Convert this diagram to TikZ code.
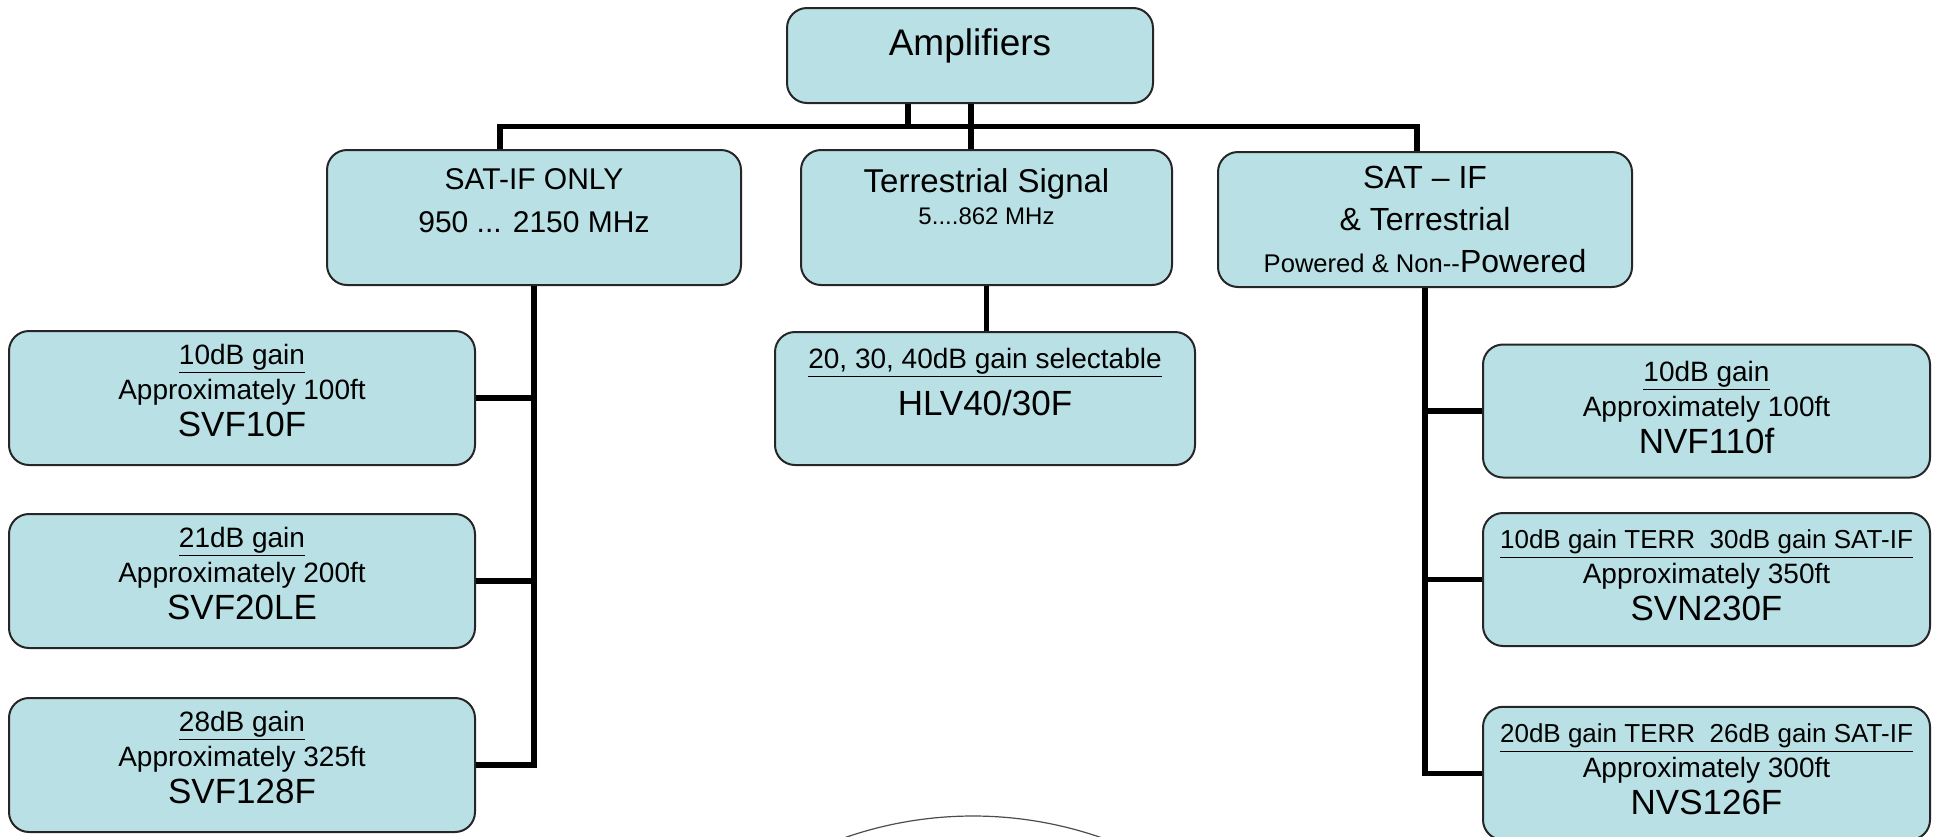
\documentclass[tikz,border=0pt]{standalone}
\usepackage{fontspec}
\setmainfont{Liberation Sans}
\usetikzlibrary{positioning}
\definecolor{boxfill}{RGB}{185,224,228}
\newcommand{\gainline}[1]{\underline{#1}}
\newcommand{\model}[1]{{\fontsize{17.5}{21}\selectfont #1}}
\newcommand{\terrsat}[1]{{\fontsize{13}{17.5}\selectfont\gainline{#1}}}
\tikzstyle{box} = [rectangle, draw=black!85, line width=1pt, fill=boxfill, rounded corners=10pt, align=center, inner sep=2pt, font=\fontsize{14}{17.5}\selectfont]
\tikzstyle{head} = [box, minimum width=207pt, minimum height=67.5pt, font=\fontsize{15}{21.5}\selectfont]
\tikzstyle{leaf} = [box, minimum width=233pt, minimum height=67pt]
\tikzstyle{rleaf} = [leaf, minimum width=223.5pt, minimum height=66.5pt]
\tikzstyle{link} = [line width=2.75pt, black]

\begin{document}
\begin{tikzpicture}[x=0.5pt, y=-0.5pt]
\useasboundingbox (0,0) rectangle (1958,836);
% top level
\node[box, minimum width=183pt, minimum height=47.5pt, text depth=13pt, font=\fontsize{18.5}{22}\selectfont] (amp) at (970,55.5) {Amplifiers};
\node[head, text depth=17pt] (satif) at (534,217.5) {SAT-IF ONLY\\950 ... 2150 MHz};
\node[head, minimum width=185.5pt, text depth=21pt, font=\fontsize{16.5}{16}\selectfont] (terr) at (986.5,217.5) {Terrestrial Signal\\{\fontsize{12}{14}\selectfont 5....862 MHz}};
\node[head, font=\fontsize{16}{21}\selectfont] (combo) at (1425,219.5) {SAT -- IF\\\& Terrestrial\\{\fontsize{12.8}{15}\selectfont Powered \& Non-{}-}Powered};
% left column
\node[leaf, text depth=8pt] (svf10) at (242,398) {\gainline{10dB gain}\\Approximately 100ft\\[1pt]\model{SVF10F}};
\node[leaf, text depth=8pt] (svf20) [below=23.5pt of svf10] {\gainline{21dB gain}\\Approximately 200ft\\[1pt]\model{SVF20LE}};
\node[leaf, text depth=8pt] (svf128) [below=24pt of svf20] {\gainline{28dB gain}\\Approximately 325ft\\[1pt]\model{SVF128F}};
% middle
\node[leaf, minimum width=210pt, minimum height=66.5pt, text depth=17pt] (hlv) at (985,398.5) {\gainline{20, 30, 40dB gain selectable}\\[5pt]\model{HLV40/30F}};
% right column
\node[rleaf, text depth=4pt] (nvf110) at (1706.5,411) {\gainline{10dB gain}\\Approximately 100ft\\[1pt]\model{NVF110f}};
\node[rleaf, text depth=4pt] (svn230) [below=16.75pt of nvf110] {\terrsat{10dB gain TERR\ \ 30dB gain SAT-IF}\\Approximately 350ft\\[1pt]\model{SVN230F}};
\node[rleaf, text depth=4pt] (nvs126) [below=29.4pt of svn230] {\terrsat{20dB gain TERR\ \ 26dB gain SAT-IF}\\Approximately 300ft\\[1pt]\model{NVS126F}};
% connectors
\draw[link] ([xshift=-17pt]satif.north) -- ++(0,-22.5) -| ([xshift=-4pt]combo.north);
\draw[link] ([xshift=-31pt]amp.south) -- ++(0,24.5);
\draw[link] ([xshift=0.5pt]amp.south) -- ([xshift=0.5pt]amp.south |- terr.north);
\draw[link] (terr.south) -- (terr.south |- hlv.north);
\draw[link] (satif.south) |- (svf128.east);
\draw[link] (satif.south |- svf10.east) -- (svf10.east);
\draw[link] (satif.south |- svf20.east) -- (svf20.east);
\draw[link] (combo.south) |- (nvs126.west);
\draw[link] (combo.south |- nvf110.west) -- (nvf110.west);
\draw[link] (combo.south |- svn230.west) -- (svn230.west);
% ring at the bottom edge
\coordinate (ringc) at (973,1207);
\draw[black!70, line width=0.6pt] ([shift={(110:195.5pt)}]ringc) arc[start angle=110, end angle=70, radius=195.5pt];
\end{tikzpicture}
\end{document}
